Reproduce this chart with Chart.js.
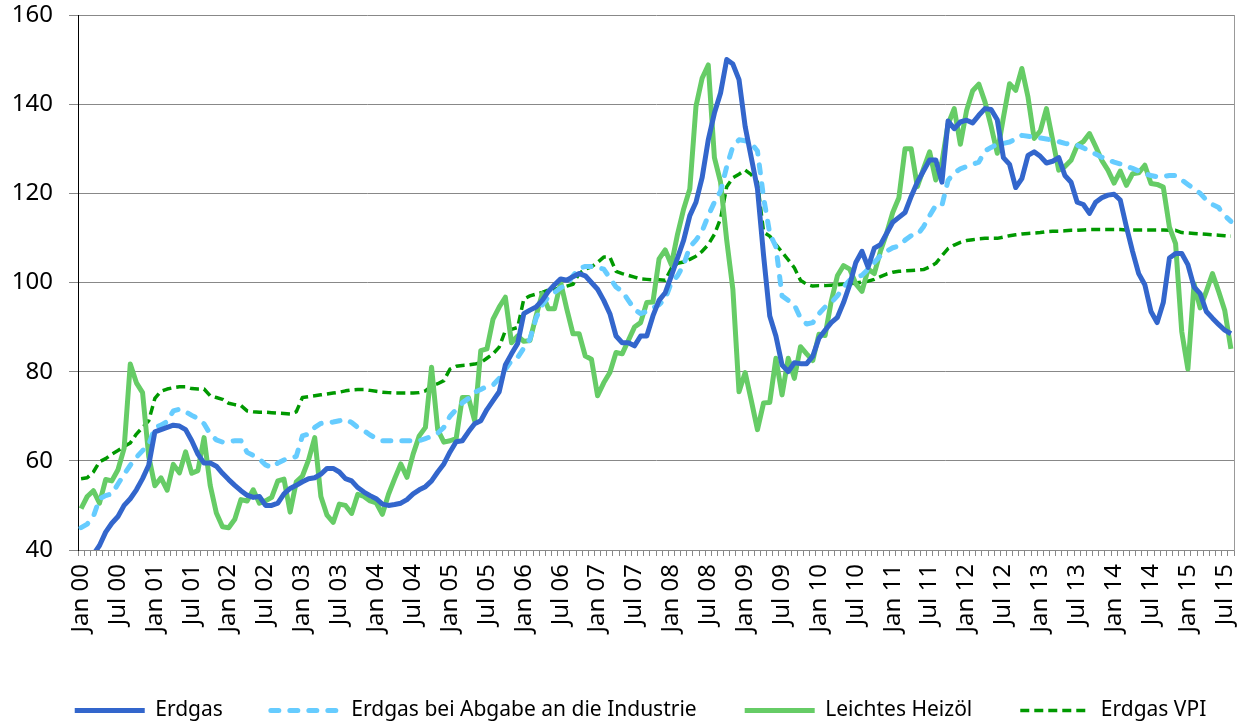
<!DOCTYPE html>
<html>
<head>
<meta charset="utf-8">
<title>Erdgas und Heizoel Preisindex</title>
<script src="https://cdn.jsdelivr.net/npm/chart.js@4.4.1/dist/chart.umd.min.js"></script>
<style>
    html, body { margin: 0; padding: 0; background: #fff; }
    #wrap { width: 1249px; height: 725px; }
</style>
</head>
<body>
<div id="wrap"><canvas id="chart"></canvas></div>
<script>

// ############################### DATA ###############################

var monthNames = ['Jan', 'Feb', 'Mar', 'Apr', 'May', 'Jun', 'Jul', 'Aug', 'Sep', 'Oct', 'Nov', 'Dec'];
var years = ['00', '01', '02', '03', '04', '05', '06', '07', '08', '09', '10', '11', '12', '13', '14', '15'];
var monthsInLastYear = 8; // series stop in Aug 15

var yTicks = [40, 60, 80, 100, 120, 140, 160];

// one row per year, Jan..Dec
var erdgas = [
    35, 37, 39, 41, 44, 46, 47.5, 50, 51.5, 53.5, 56, 59,
    66.5, 67, 67.5, 68, 67.8, 67, 64.5, 61.5, 59.5, 59.5, 58.8, 57.2,
    55.8, 54.5, 53.3, 52.3, 51.8, 52, 50, 50, 50.5, 52.6, 53.8, 54.5,
    55.3, 56, 56.2, 57, 58.3, 58.3, 57.5, 56, 55.5, 54, 53, 52.2,
    51.5, 50.3, 50, 50.2, 50.5, 51.3, 52.6, 53.5, 54.2, 55.5, 57.5, 59.3,
    62, 64.3, 64.5, 66.5, 68.3, 69, 71.5, 73.5, 75.5, 81.5, 84, 86.3,
    93, 93.8, 94.5, 96, 98, 99.5, 100.8, 100.5, 101.3, 102, 101.5, 100,
    98.5, 96, 93, 88, 86.5, 86.5, 85.8, 88, 88, 92.5, 96, 97.7,
    101.5, 105.5, 109.5, 115, 118, 123.5, 132, 138, 142.5, 150, 149, 145.5,
    135, 128, 121, 106, 92.5, 88, 81.5, 80, 82, 81.8, 81.8, 83.5,
    87.5, 89.3, 91, 92.2, 95.5, 99.5, 104.5, 107, 103.4, 107.7, 108.5, 111,
    113.5, 114.6, 115.7, 119.3, 122.5, 125, 127.5, 127.5, 122.5, 136.2, 134.5, 136,
    136.4, 135.8, 137.5, 139, 138.8, 136.5, 128, 126.5, 121.3, 123.3, 128.5, 129.3,
    128.3, 126.8, 127.2, 128, 124, 122.5, 118, 117.5, 115.5, 118, 119, 119.6,
    119.8, 118.5, 112.5, 107, 102, 99.5, 93.5, 91, 95.5, 105.5, 106.5, 106.5,
    104, 99, 97.5, 93.5, 92, 90.6, 89.3, 88.5
];

var erdgasIndustrie = [
    45, 45.8, 47.5, 51.5, 52.2, 52.6, 54.8, 57, 59, 60.8, 62.3, 63.6,
    67.5, 68, 68.8, 71.2, 71.6, 71, 70.2, 69.5, 68.3, 66, 64.7, 64.2,
    64.4, 64.5, 64.5, 61.9, 61.2, 60.4, 59.1, 58.5, 59.5, 60.2, 60.5, 61,
    65.6, 66, 67.5, 68.4, 68.5, 68.7, 69, 69.3, 68.6, 67.5, 66.8, 65.8,
    65, 64.5, 64.5, 64.5, 64.5, 64.5, 64.5, 64.5, 65, 65.5, 66.2, 67.5,
    70, 71.5, 73, 74, 75.4, 76, 76.7, 77, 78.5, 80.5, 82.5, 83.2,
    85.3, 87.3, 92, 95, 96.8, 97.8, 98.8, 99.6, 101.5, 103.2, 103.6, 103.6,
    103.4, 103, 101, 99, 98, 96, 94, 93, 93.5, 94.3, 95, 96.3,
    100, 101.5, 104, 108, 109.5, 111.5, 115, 118, 120.5, 126, 130.5, 132,
    131.8, 131.2, 129.5, 119, 111, 108, 97, 96, 95, 92, 90.7, 91,
    93, 94.5, 95.5, 97, 99, 100.5, 101.3, 101.6, 103, 104.5, 106, 107,
    107.8, 108.2, 109.5, 110.5, 110.7, 112.5, 115, 117.3, 117.3, 122.9, 124.6, 125.5,
    126, 126.5, 127, 129.5, 130.3, 131, 131.2, 131.5, 132.2, 133, 132.8, 132.6,
    132.4, 132.2, 131.9, 131.6, 131.2, 131, 130.8, 130.2, 129.5, 128.8, 128.1, 127.5,
    127, 126.6, 126.1, 125.6, 125, 124.4, 124, 123.7, 123.8, 124, 124, 123,
    122, 121, 120, 118.5, 117.5, 116.8, 115, 113.7
];

var heizoel = [
    49.3, 52, 53.3, 50.5, 55.8, 55.5, 58, 62.8, 81.7, 77.5, 75.3, 61,
    54.4, 56.2, 53.4, 59.2, 57.3, 62, 57.2, 57.8, 65.2, 54.5, 48.3, 45.2,
    45, 46.9, 51.3, 51, 53.5, 50.5, 51, 51.8, 55.5, 55.9, 48.5, 55.3,
    56.6, 60.2, 65.2, 52, 47.8, 46.2, 50.3, 50, 48.2, 52.5, 52, 51,
    50.6, 48, 52.5, 56, 59.3, 56.3, 61.5, 65.6, 67.5, 81, 67, 64.2,
    64.5, 65, 74.2, 74.2, 69, 84.7, 85.1, 91.8, 94.5, 96.7, 86.5, 88,
    86.8, 87, 92.5, 97.5, 94.1, 94.1, 100, 94, 88.5, 88.5, 83.5, 82.8,
    74.6, 77.5, 79.8, 84.3, 84, 87, 90, 91, 95.5, 95.6, 105.3, 107.3,
    104, 110.8, 116.5, 121, 139.5, 145.8, 148.8, 128, 122.5, 109.5, 98.5, 75.5,
    79.8, 73.5, 67, 73, 73.1, 83, 74.8, 83, 78.5, 85.6, 84, 82.5,
    88.4, 88.1, 95.8, 101.5, 103.8, 103, 99.7, 98, 103, 102, 107, 111,
    115.7, 119, 130, 130, 121.5, 125.5, 129.3, 123, 127, 135.5, 139, 131,
    138.5, 143, 144.5, 140.5, 135, 129, 137, 144.6, 143.1, 148, 141.6, 132.3,
    134, 139, 132, 125.2, 126, 127.4, 130.7, 131.6, 133.4, 130.5, 127.4, 125.2,
    122.3, 125, 121.8, 124.4, 124.6, 126.3, 122.2, 122, 121.4, 112.4, 108.7, 89,
    80.6, 99.7, 94.3, 98, 102, 98, 93.7, 85.1
];

var erdgasVpi = [
    56, 56.2, 57.5, 59.8, 60.5, 61.5, 62.3, 63.2, 64, 66, 67.5, 69,
    74, 75.6, 76.1, 76.4, 76.6, 76.6, 76.2, 76.1, 76.1, 74.6, 74.2, 73.8,
    72.9, 72.6, 72.4, 71.2, 71, 70.9, 70.9, 70.8, 70.7, 70.6, 70.5, 71,
    74.2, 74.4, 74.6, 74.8, 75, 75.2, 75.4, 75.7, 75.9, 76, 76, 75.8,
    75.6, 75.4, 75.3, 75.2, 75.2, 75.2, 75.2, 75.3, 75.7, 76.8, 77.3, 78,
    80.6, 81.2, 81.4, 81.5, 81.7, 82, 83, 84, 85.5, 89.2, 89.5, 89.9,
    96.3, 97, 97.4, 97.8, 98.3, 98.5, 98.8, 99.2, 99.6, 102, 103, 103.5,
    104.5, 105.7, 105.7, 102.5, 102, 101.6, 101.2, 100.8, 100.7, 100.6, 100.6, 100.5,
    103.2, 104.3, 104.6, 105.2, 105.9, 107, 108.5, 110.8, 114.3, 121.5, 123.5, 124.3,
    125.2, 124.2, 122.5, 111.3, 110.4, 108.5, 106.8, 105.1, 103.3, 100.5, 99.6, 99.2,
    99.3, 99.3, 99.4, 99.5, 99.6, 99.7, 99.9, 100.1, 100.3, 100.7, 101.3, 101.9,
    102.3, 102.5, 102.6, 102.7, 102.8, 102.9, 103.5, 104.3, 106, 107.6, 108.4, 109,
    109.4, 109.6, 109.8, 109.9, 109.9, 109.9, 110.2, 110.5, 110.7, 110.9, 111, 111.1,
    111.2, 111.4, 111.5, 111.5, 111.6, 111.7, 111.7, 111.8, 111.9, 111.9, 111.9, 111.9,
    111.9, 111.9, 111.8, 111.8, 111.8, 111.8, 111.8, 111.8, 111.8, 111.7, 111.7, 111.2,
    111.1, 111, 110.9, 110.8, 110.7, 110.6, 110.5, 110.4
];

// ############################### LABELS ###############################

var labels = [];
for (var y = 0; y < years.length; y++) {
    var count = (y == years.length - 1) ? monthsInLastYear : 12;
    for (var m = 0; m < count; m++)
        labels.push(monthNames[m] + ' ' + years[y]);
}

// ############################### CHART ###############################

Chart.defaults.font.family = "'Noto Sans', sans-serif";
Chart.defaults.color = '#000';

// legend sits a bit further right and lower than chart.js puts it
var legendNudge = {
    id: 'legendNudge',
    afterLayout: function (chart) {
        var lg = chart.legend;
        if (!lg) return;
        lg.left += 16;
        lg.right += 16;
        lg.top += 6;
        lg.bottom += 6;
    }
};

// point style legend takes the point options, so put the line dash back
function legendLabels(chart) {
    var items = Chart.defaults.plugins.legend.labels.generateLabels(chart);
    items.forEach(function (item) {
        var ds = chart.data.datasets[item.datasetIndex];
        item.lineDash = ds.borderDash || [];
        item.lineCap = ds.borderCapStyle || 'butt';
        item.lineWidth = ds.borderWidth;
    });
    return items;
}

var ctx = document.getElementById('chart').getContext('2d');

var chart = new Chart(ctx, {
    type: 'line',
    data: {
        labels: labels,
        datasets: [
            {
                label: 'Erdgas',
                data: erdgas,
                borderColor: '#3366CC',
                backgroundColor: '#3366CC',
                borderWidth: 5,
                pointStyle: 'line'
            },
            {
                label: 'Erdgas bei Abgabe an die Industrie',
                data: erdgasIndustrie,
                borderColor: '#66CCFF',
                backgroundColor: '#66CCFF',
                borderWidth: 5,
                borderDash: [8, 11],
                borderCapStyle: 'round',
                pointStyle: 'line'
            },
            {
                label: 'Leichtes Heizöl',
                data: heizoel,
                borderColor: '#66CC66',
                backgroundColor: '#66CC66',
                borderWidth: 5,
                pointStyle: 'line'
            },
            {
                label: 'Erdgas VPI',
                data: erdgasVpi,
                borderColor: '#009900',
                backgroundColor: '#009900',
                borderWidth: 3.5,
                borderDash: [9, 5],
                pointStyle: 'line'
            }
        ]
    },
    options: {
        responsive: true,
        maintainAspectRatio: false,
        animation: false,
        layout: { padding: { top: 15, left: 0, right: 0, bottom: 0 } },
        elements: {
            line: { tension: 0, borderJoinStyle: 'round' },
            point: { radius: 0, hoverRadius: 0 }
        },
        plugins: {
            tooltip: { enabled: false },
            legend: {
                position: 'bottom',
                labels: {
                    usePointStyle: true,
                    pointStyleWidth: 70,
                    padding: 48,
                    color: '#000',
                    font: { size: 21 },
                    generateLabels: legendLabels
                }
            }
        },
        scales: {
            x: {
                offset: true,
                grid: {
                    offset: true,
                    drawOnChartArea: false,
                    color: '#888',
                    tickLength: 6
                },
                border: { color: '#888', width: 1 },
                ticks: {
                    autoSkip: false,
                    maxRotation: 90,
                    minRotation: 90,
                    padding: 8,
                    font: { size: 24 },
                    callback: function (val, idx) {
                        return (idx % 6 == 0) ? this.getLabelForValue(val) : '';
                    }
                },
                afterFit: function (scale) {
                    scale.height = 96;
                    scale.paddingLeft = 0;
                    scale.paddingRight = 0;
                }
            },
            y: {
                min: yTicks[0],
                max: yTicks[yTicks.length - 1],
                grid: { color: '#888', tickLength: 9 },
                border: { color: '#000', width: 1 },
                ticks: {
                    stepSize: yTicks[1] - yTicks[0],
                    padding: 16,
                    font: { size: 24 }
                },
                afterFit: function (scale) {
                    scale.width = 78;
                    scale.paddingTop = 0;
                    scale.paddingBottom = 0;
                }
            },
            yRight: {
                position: 'right',
                min: yTicks[0],
                max: yTicks[yTicks.length - 1],
                grid: { drawOnChartArea: false, drawTicks: false },
                border: { color: '#999', width: 1 },
                ticks: { display: false },
                afterFit: function (scale) {
                    scale.width = 15;
                    scale.paddingTop = 0;
                    scale.paddingBottom = 0;
                }
            }
        }
    },
    plugins: [legendNudge]
});

</script>
</body>
</html>
